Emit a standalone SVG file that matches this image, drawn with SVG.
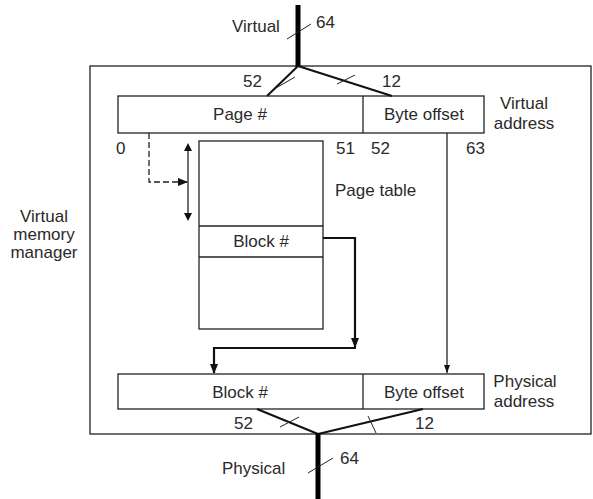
<svg xmlns="http://www.w3.org/2000/svg" width="593" height="499" viewBox="0 0 593 499">
<style>
text{font-family:"Liberation Sans",Arial,sans-serif;font-size:17px;fill:#2a2a2a}
.c{text-anchor:middle}
.box{fill:none;stroke:#222;stroke-width:1.3}
.bus{stroke:#000;stroke-width:5;fill:none}
.br{stroke:#111;stroke-width:2;fill:none}
.tick{stroke:#222;stroke-width:1;fill:none}
.thin{stroke:#222;stroke-width:1.3;fill:none}
.thick{stroke:#111;stroke-width:2.2;fill:none}
</style>
<defs>
<marker id="ah" markerWidth="10" markerHeight="8" refX="9" refY="4" orient="auto" markerUnits="userSpaceOnUse">
<path d="M0,0 L10,4 L0,8 Z" fill="#111"/>
</marker>
<marker id="ahs" markerWidth="8" markerHeight="6" refX="8" refY="3" orient="auto" markerUnits="userSpaceOnUse">
<path d="M0,0 L8,3 L0,6 Z" fill="#111"/>
</marker>
<marker id="ahb" markerWidth="8" markerHeight="8" refX="4" refY="4" orient="auto-start-reverse" markerUnits="userSpaceOnUse">
<path d="M0,0 L8,4 L0,8 Z" fill="#111"/>
</marker>
</defs>

<g id="vmm">
<rect class="box" x="90" y="66" width="501" height="368"/>
<text class="c" x="44" y="222">Virtual</text>
<text class="c" x="44" y="240">memory</text>
<text class="c" x="44" y="258">manager</text>
</g>

<g id="virtual-address">
<rect class="box" x="118" y="96" width="366" height="37"/>
<line class="box" x1="363" y1="96" x2="363" y2="133"/>
<text class="c" x="240" y="120">Page #</text>
<text class="c" x="424" y="120">Byte offset</text>
<text class="c" x="524" y="109">Virtual</text>
<text class="c" x="524" y="129">address</text>
<text x="116" y="154">0</text>
<text x="336" y="154">51</text>
<text x="371" y="154">52</text>
<text x="466" y="154">63</text>
</g>

<g id="page-table">
<rect class="box" x="199" y="141" width="124" height="188"/>
<line class="box" x1="199" y1="226" x2="323" y2="226"/>
<line class="box" x1="199" y1="257" x2="323" y2="257"/>
<text class="c" x="261" y="247">Block #</text>
<text x="335" y="196">Page table</text>
</g>

<g id="physical-address">
<rect class="box" x="118" y="374" width="366" height="35"/>
<line class="box" x1="363" y1="374" x2="363" y2="409"/>
<text class="c" x="240" y="398">Block #</text>
<text class="c" x="424" y="398">Byte offset</text>
<text class="c" x="525" y="387">Physical</text>
<text class="c" x="524" y="407">address</text>
</g>

<g id="connectors">
<line class="bus" x1="298" y1="5" x2="298" y2="67"/>
<line class="tick" x1="287" y1="39" x2="311" y2="24"/>
<text x="232" y="32">Virtual</text>
<text x="316" y="28">64</text>
<line class="br" x1="298" y1="66" x2="267" y2="96"/>
<line class="br" x1="298" y1="66" x2="392" y2="96"/>
<line class="tick" x1="276" y1="88" x2="295" y2="77"/>
<line class="tick" x1="337" y1="84" x2="355" y2="75"/>
<text x="243" y="87">52</text>
<text x="382" y="87">12</text>

<path class="thin" d="M149,133 V182 H187" stroke-dasharray="6,3" marker-end="url(#ah)"/>
<line class="thin" x1="188" y1="147" x2="188" y2="217" marker-start="url(#ahb)" marker-end="url(#ahb)"/>

<path class="thick" d="M323,238 H355 V347" marker-end="url(#ah)"/>
<path class="thick" d="M356,348 H214 V373" marker-end="url(#ah)"/>

<line class="thin" x1="447" y1="133" x2="447" y2="373" marker-end="url(#ahs)"/>

<line class="br" x1="257" y1="409" x2="318" y2="434"/>
<line class="br" x1="423" y1="409" x2="318" y2="434"/>
<line class="tick" x1="280" y1="427" x2="299" y2="417"/>
<line class="tick" x1="368" y1="416" x2="376" y2="433"/>
<text x="234" y="429">52</text>
<text x="415" y="429">12</text>
<line class="bus" x1="318" y1="433" x2="318" y2="499"/>
<line class="tick" x1="308" y1="473" x2="333" y2="458"/>
<text x="222" y="474">Physical</text>
<text x="340" y="464">64</text>
</g>
</svg>
